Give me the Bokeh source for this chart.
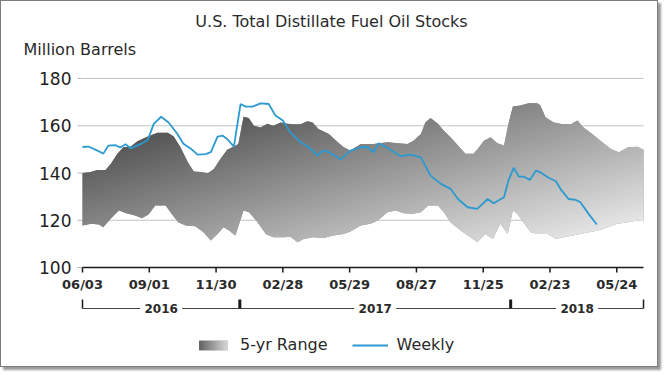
import base64
import struct
import zlib

import numpy as np
import pandas as pd
from bokeh.plotting import figure
from bokeh.models import Legend, LegendItem, ImageURLTexture, Range1d
from bokeh.embed import file_html
from bokeh.resources import INLINE
from bokeh.core.properties import value

# ---------------- data ----------------
weekly_dates = ["2016-06-03","2016-06-11","2016-06-23","2016-07-01","2016-07-08","2016-07-17","2016-07-24",
                "2016-07-31","2016-08-07","2016-08-20","2016-08-30","2016-09-07","2016-09-17","2016-09-27",
                "2016-10-09","2016-10-17","2016-10-27","2016-11-05","2016-11-16","2016-11-23","2016-12-02",
                "2016-12-09","2016-12-15","2016-12-24","2017-01-02","2017-01-09","2017-01-18","2017-01-29",
                "2017-02-09","2017-02-18","2017-02-28","2017-03-10","2017-03-24","2017-04-04","2017-04-16",
                "2017-04-23","2017-05-01","2017-05-17","2017-05-30","2017-06-13","2017-06-22","2017-06-30",
                "2017-07-07","2017-07-19","2017-08-06","2017-08-19","2017-09-02","2017-09-15","2017-09-29",
                "2017-10-12","2017-10-22","2017-11-04","2017-11-17","2017-12-01","2017-12-09","2017-12-23",
                "2017-12-29","2018-01-05","2018-01-12","2018-01-18","2018-01-27","2018-02-04","2018-02-10",
                "2018-02-20","2018-03-03","2018-03-09","2018-03-20","2018-03-30","2018-04-05","2018-04-16",
                "2018-04-27"]
weekly_values = [151.0,151.2,149.5,148.2,151.6,151.8,150.8,152.2,150.4,152.2,154.0,160.8,163.8,161.4,
                 156.5,152.4,150.3,147.8,148.0,148.8,155.4,155.8,154.4,151.2,169.2,168.1,168.1,169.5,
                 169.2,164.3,162.2,157.2,153.0,150.9,147.4,149.5,148.8,145.8,149.5,150.9,151.0,148.8,
                 152.6,150.6,147.1,147.8,146.6,138.9,135.4,133.3,129.0,125.5,124.8,129.0,127.2,129.7,
                 136.8,142.2,138.5,138.5,137.1,141.0,140.3,138.2,136.5,133.3,129.0,128.6,127.6,122.7,
                 118.2]

range_hi_dates = ["2016-06-03","2016-06-14","2016-06-23","2016-07-04","2016-07-11","2016-07-20","2016-07-28",
                  "2016-08-07","2016-08-16","2016-08-30","2016-09-12","2016-09-26","2016-10-04","2016-10-13",
                  "2016-10-23","2016-10-31","2016-11-09","2016-11-19","2016-11-27","2016-12-06","2016-12-15",
                  "2016-12-24","2016-12-30","2017-01-06","2017-01-13","2017-01-20","2017-01-29","2017-02-07",
                  "2017-02-15","2017-02-25","2017-03-06","2017-03-14","2017-03-24","2017-04-02","2017-04-09",
                  "2017-04-17","2017-05-01","2017-05-13","2017-05-21","2017-05-30","2017-06-13","2017-06-30",
                  "2017-07-19","2017-08-02","2017-08-15","2017-08-23","2017-09-02","2017-09-08","2017-09-15",
                  "2017-09-25","2017-10-03","2017-10-12","2017-10-22","2017-11-01","2017-11-12","2017-11-17",
                  "2017-11-26","2017-12-05","2017-12-14","2017-12-23","2017-12-29","2018-01-04","2018-01-14",
                  "2018-01-25","2018-02-06","2018-02-10","2018-02-17","2018-02-28","2018-03-12","2018-03-23",
                  "2018-04-01","2018-04-09","2018-04-21","2018-05-02","2018-05-16","2018-05-27","2018-06-08",
                  "2018-06-21","2018-06-29"]
range_hi_values = [140.0,140.4,141.3,141.3,143.8,148.1,150.9,151.2,153.4,155.4,157.0,157.0,155.4,150.9,
                   144.5,140.6,140.4,139.9,141.7,146.0,149.8,151.2,152.3,163.8,163.3,160.0,159.3,160.8,
                   160.0,161.4,160.8,160.6,160.6,161.9,161.4,158.6,156.5,153.0,150.9,149.5,152.3,152.3,
                   153.0,152.6,152.3,153.7,156.5,161.4,163.3,160.8,157.9,155.1,151.6,148.1,148.1,150.0,
                   153.7,155.1,152.6,151.6,160.8,168.1,168.6,169.5,169.5,168.6,163.6,161.4,160.6,160.6,
                   162.2,159.3,156.5,153.7,150.2,148.8,150.9,151.1,149.8]

range_lo_dates = ["2016-06-03","2016-06-15","2016-06-25","2016-07-01","2016-07-11","2016-07-22","2016-08-01",
                  "2016-08-13","2016-08-22","2016-08-31","2016-09-09","2016-09-23","2016-10-01","2016-10-10",
                  "2016-10-20","2016-11-02","2016-11-13","2016-11-23","2016-12-02","2016-12-10","2016-12-17",
                  "2016-12-26","2017-01-06","2017-01-13","2017-01-25","2017-02-05","2017-02-15","2017-03-01",
                  "2017-03-10","2017-03-20","2017-03-28","2017-04-10","2017-04-24","2017-05-07","2017-05-21",
                  "2017-05-30","2017-06-13","2017-06-26","2017-07-06","2017-07-19","2017-07-30","2017-08-10",
                  "2017-08-22","2017-09-02","2017-09-12","2017-09-25","2017-10-03","2017-10-12","2017-10-26",
                  "2017-11-08","2017-11-17","2017-11-28","2017-12-08","2017-12-18","2017-12-28","2018-01-04",
                  "2018-01-10","2018-01-18","2018-01-28","2018-02-06","2018-02-20","2018-03-03","2018-03-13",
                  "2018-03-26","2018-04-05","2018-04-16","2018-04-28","2018-05-12","2018-05-25","2018-06-08",
                  "2018-06-21","2018-06-29"]
range_lo_values = [117.8,118.5,118.2,117.0,120.6,124.1,123.0,122.0,120.8,122.4,126.2,126.2,122.7,119.2,
                   117.8,117.5,114.9,111.4,114.2,117.0,115.8,113.5,124.1,123.5,119.2,114.2,112.8,112.8,
                   113.0,110.7,112.1,112.8,112.5,113.5,114.2,115.2,117.8,118.5,119.9,123.4,124.1,123.0,
                   122.7,123.4,126.2,126.2,123.4,119.2,115.6,112.8,110.7,114.2,112.1,118.5,114.2,124.1,
                   122.7,119.2,114.9,114.2,114.2,112.1,112.8,113.5,114.2,114.9,115.6,117.0,118.5,119.2,
                   119.9,119.6]

x_tick_dates = ["2016-06-03","2016-09-01","2016-11-30","2017-02-28","2017-05-29",
                "2017-08-27","2017-11-25","2018-02-23","2018-05-24"]
x_tick_labels = ["06/03","09/01","11/30","02/28","05/29","08/27","11/25","02/23","05/24"]
y_ticks = [100, 120, 140, 160, 180]
y_tick_labels = ["100", "120", "140", "160", "180"]
y_grid_ticks = [120, 140, 160, 180]
year_labels = ["2016", "2017", "2018"]
year_bounds = ["2016-06-03", "2017-01-01", "2018-01-01", "2018-06-29"]

title_text = "U.S. Total Distillate Fuel Oil Stocks"
unit_text = "Million Barrels"

# ---------------- helpers ----------------
def ms(d):
    return pd.Timestamp(d).value / 1e6

FONT = "DejaVu Sans"
W, H = 658, 367             # canvas (page offset 1px by the border)
OFF = 1
PX_L, PX_R = 82, 643        # page pixels of the first / last date
PY_B, PY_T = 267, 78        # page pixels of y = 100 / y = 180
x0_ms, x1_ms = ms(year_bounds[0]), ms(year_bounds[-1])
mpp = (x1_ms - x0_ms) / (PX_R - PX_L)
upp = (180 - 100) / (PY_B - PY_T)

def X(px):   # page pixel -> data x (ms)
    return x0_ms + (px - PX_L) * mpp

def Y(py):   # page pixel -> data y
    return 100 + (PY_B - py) * upp


# ------------- gradient texture (style only: a grey ramp image used as the band's fill) -------------
# For the band the tile is anchored at the canvas origin; for the legend swatch it is anchored
# at the legend's corner, so the tile's top-left corner holds the swatch's horizontal ramp.
def gradient_png_url():
    u = np.arange(W)[None, :].astype(float)
    v = np.arange(H)[:, None].astype(float)
    page_x = u + OFF
    page_y = v + OFF
    g = np.clip(-29 + 0.18 * page_x + 0.65 * page_y, 76, 234)
    g = np.broadcast_to(g, (H, W)).copy()
    sw = np.clip(82 + (u[:, :44] / 36.0) * 150, 82, 232)
    g[0:24, 0:44] = np.broadcast_to(sw, (24, 44))
    img = np.round(g).astype(np.uint8)
    rows = []
    for r in range(H):
        row = img[r].astype(np.int16)
        sub = np.empty_like(row)
        sub[0] = row[0]
        sub[1:] = row[1:] - row[:-1]
        rows.append(b"\x01" + (sub & 0xFF).astype(np.uint8).tobytes())
    raw = b"".join(rows)

    def chunk(tag, data):
        return (struct.pack(">I", len(data)) + tag + data +
                struct.pack(">I", zlib.crc32(tag + data) & 0xFFFFFFFF))

    ihdr = struct.pack(">IIBBBBB", W, H, 8, 0, 0, 0, 0)
    png = (b"\x89PNG\r\n\x1a\n" + chunk(b"IHDR", ihdr) +
           chunk(b"IDAT", zlib.compress(raw, 9)) + chunk(b"IEND", b""))
    return "data:image/png;base64," + base64.b64encode(png).decode()


p = figure(width=W, height=H,
           x_range=Range1d(X(OFF), X(OFF + W)), y_range=Range1d(Y(OFF + H), Y(OFF)),
           x_axis_location=None, y_axis_location=None,
           output_backend="svg", toolbar_location=None,
           min_border_left=0, min_border_right=0, min_border_top=0, min_border_bottom=0)
p.outline_line_color = None
p.background_fill_color = "white"
p.border_fill_color = "white"
for g_ in p.grid:
    g_.visible = False
p.styles = {"border": "1px solid #7c7c7c", "box-shadow": "3px 3px 2px #9a9a9a"}

tex = ImageURLTexture(url=gradient_png_url())

band_x = [ms(d) for d in range_hi_dates] + [ms(d) for d in range_lo_dates[::-1]]
band_y = list(range_hi_values) + list(range_lo_values[::-1])

# grid lines + y ticks (under the band)
p.segment(x0=[X(77)] * len(y_ticks), y0=y_ticks, x1=[x0_ms] * len(y_ticks), y1=y_ticks,
          line_color="#b8b8b8", line_width=1)
p.segment(x0=[x0_ms] * len(y_grid_ticks), y0=y_grid_ticks, x1=[x1_ms] * len(y_grid_ticks),
          y1=y_grid_ticks, line_color="#c4c4c4", line_width=1)

band = p.patch(band_x, band_y, fill_color="#8c8c8c", fill_alpha=1.0, line_color=None,
               hatch_pattern="@", hatch_extra={"@": tex}, hatch_alpha=1.0, hatch_color="black")

weekly = p.line([ms(d) for d in weekly_dates], weekly_values,
                line_color="#2b9ad1", line_width=1.8)

# ---------------- x axis ----------------
xt = [ms(d) for d in x_tick_dates]
p.segment(x0=[x0_ms], y0=[y_ticks[0]], x1=[x1_ms], y1=[y_ticks[0]],
          line_color="#1a1a1a", line_width=1.5)
p.segment(x0=xt, y0=[y_ticks[0]] * len(xt), x1=xt, y1=[Y(272)] * len(xt),
          line_color="#1a1a1a", line_width=1.5)
p.text(x=xt, y=[Y(284)] * len(xt), text=x_tick_labels, text_align="center",
       text_baseline="middle", text_font=value(FONT), text_font_style="bold",
       text_font_size="13px", text_color="#2a2a2a")

# ---------------- y axis labels ----------------
p.text(x=[X(71)] * len(y_ticks), y=y_ticks, text=y_tick_labels, text_align="right",
       text_baseline="middle", text_font=value(FONT), text_font_size="17px",
       text_color="#1e1e1e")

# ---------------- year bracket ----------------
yb = [ms(d) for d in year_bounds]
y_mid = [(a + b) / 2 for a, b in zip(yb[:-1], yb[1:])]
p.segment(x0=[yb[0]], y0=[Y(308)], x1=[yb[-1]], y1=[Y(308)], line_color="#444444", line_width=1)
p.segment(x0=yb, y0=[Y(299)] * len(yb), x1=yb, y1=[Y(308)] * len(yb),
          line_color="#1a1a1a", line_width=[1.5, 3, 3, 1.5])
p.rect(x=y_mid, y=[Y(308)] * len(y_mid), width=42, height=14, width_units="screen",
       height_units="screen", fill_color="white", line_color=None)
p.text(x=y_mid, y=[Y(308)] * len(y_mid), text=year_labels, text_align="center",
       text_baseline="middle", text_font=value(FONT), text_font_style="bold",
       text_font_size="12px", text_color="#2a2a2a")

# ---------------- title texts ----------------
p.text(x=[X(331)], y=[Y(21)], text=[title_text], text_align="center", text_baseline="middle",
       text_font=value(FONT), text_font_size="16px", text_color="#2a2a2a")
p.text(x=[X(23)], y=[Y(49)], text=[unit_text], text_align="left", text_baseline="middle",
       text_font=value(FONT), text_font_size="16px", text_color="#2a2a2a")

# ---------------- legend ----------------
legend = Legend(items=[LegendItem(label="5-yr Range", renderers=[band]),
                       LegendItem(label="Weekly", renderers=[weekly])],
                orientation="horizontal", location=(195 - OFF, H - (335 - OFF) - 19),
                border_line_color=None, background_fill_alpha=0,
                label_text_font=FONT, label_text_font_size="16px", label_text_color="#2a2a2a",
                glyph_width=36, glyph_height=12, label_standoff=9, spacing=24,
                padding=0, margin=0)
p.add_layout(legend, "center")

open("out.html", "w").write(file_html(p, INLINE))
